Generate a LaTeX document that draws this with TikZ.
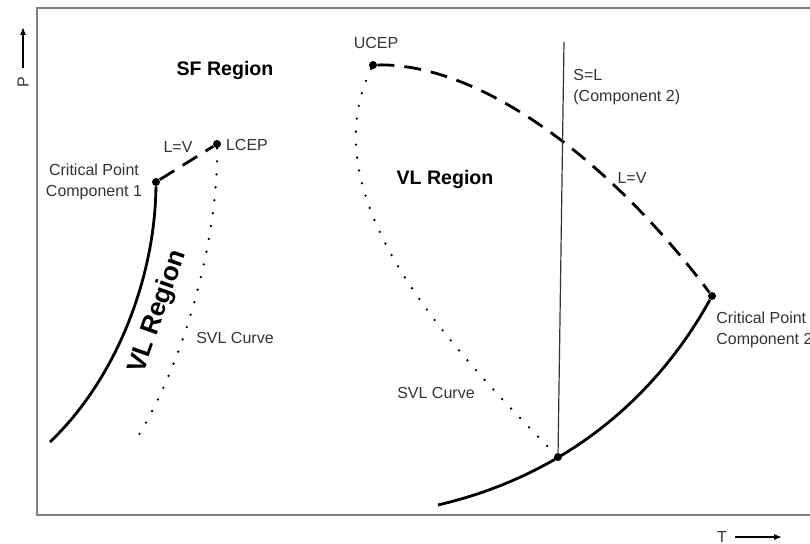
\documentclass[tikz,border=0pt]{standalone}
\usepackage{fontspec}
\setmainfont{Liberation Sans}
\usetikzlibrary{arrows.meta}

\begin{document}
\begin{tikzpicture}[x=0.5pt,y=-0.5pt,
  lbl/.style={inner sep=0pt, text=black!80, font=\fontsize{8}{10.8}\selectfont},
  region/.style={inner sep=0pt, font=\fontsize{9.8}{12}\selectfont\bfseries},
  pt/.style={circle, fill=black, inner sep=0pt, minimum size=4pt},
  phase/.style={line width=1.4pt},
  crit/.style={line width=1.4pt, dash pattern=on 8.5pt off 5pt},
  svl/.style={line width=1.3pt, line cap=round, dash pattern=on 0pt off 6.5pt},
  axisarrow/.style={line width=0.6pt, shorten <=4pt, -{Latex[length=4pt,width=3pt]}}]
\useasboundingbox (0,0) rectangle (810,544);
\draw[gray, line width=1pt] (840,8) -- (37,8) -- (37,515) -- (840,515);

\node[lbl, rotate=90] (P) at (23,82) {P};
\coordinate (Ptip) at (23,27);
\draw[axisarrow] (P) -- (Ptip);
\node[lbl] (T) at (722,537) {T};
\coordinate (Ttip) at (782,537);
\draw[axisarrow] (T) -- (Ttip);

\node[pt] (cpA) at (156,182) {};
\node[pt] (lcep) at (217,144) {};
\node[pt] (ucep) at (373,65) {};
\node[pt] (cpB) at (712,296) {};
\node[pt] (slv) at (558,457) {};
\coordinate (lowA) at (50,442);
\coordinate (lowB) at (137,438);
\coordinate (lowC) at (438,505);
\coordinate (topSL) at (564,42);

\draw[phase] (lowA) .. controls (115,380) and (155,280) .. (cpA);
\draw[crit] (cpA) -- (lcep);
\draw[svl] (lcep) .. controls (218,240) and (185,360) .. (lowB);
\draw[crit] (ucep) .. controls (481,63) and (611,161) .. (cpB);
\draw[svl] (ucep) .. controls (308,200) and (454,351) .. (slv);
\draw[phase] (lowC) .. controls (571,474) and (659,392) .. (cpB);
\draw[line width=0.6pt, black!80] (topSL) -- (slv);

\node[lbl, align=center] (cpAlbl) at (94,182) {Critical Point\\Component 1};
\node[lbl] (lvA) at (178,147) {L=V};
\node[lbl] (lceplbl) at (247,145) {LCEP};
\node[region] (sf) at (225,70) {SF Region};
\node[lbl] (uceplbl) at (376,43) {UCEP};
\node[region] (vlB) at (445,179) {VL Region};
\node[lbl, align=left, anchor=west] (sl) at (573,87) {S=L\\(Component 2)};
\node[lbl] (lvB) at (632,178) {L=V};
\node[lbl, align=left, anchor=west] (cpBlbl) at (716,330) {Critical Point\\Component 2};
\node[lbl] (svlA) at (235,338) {SVL Curve};
\node[lbl] (svlB) at (436,393) {SVL Curve};
\node[region, font=\fontsize{13}{15}\selectfont\bfseries, rotate=70.7] (vlA) at (158,312) {VL Region};
\end{tikzpicture}
\end{document}
